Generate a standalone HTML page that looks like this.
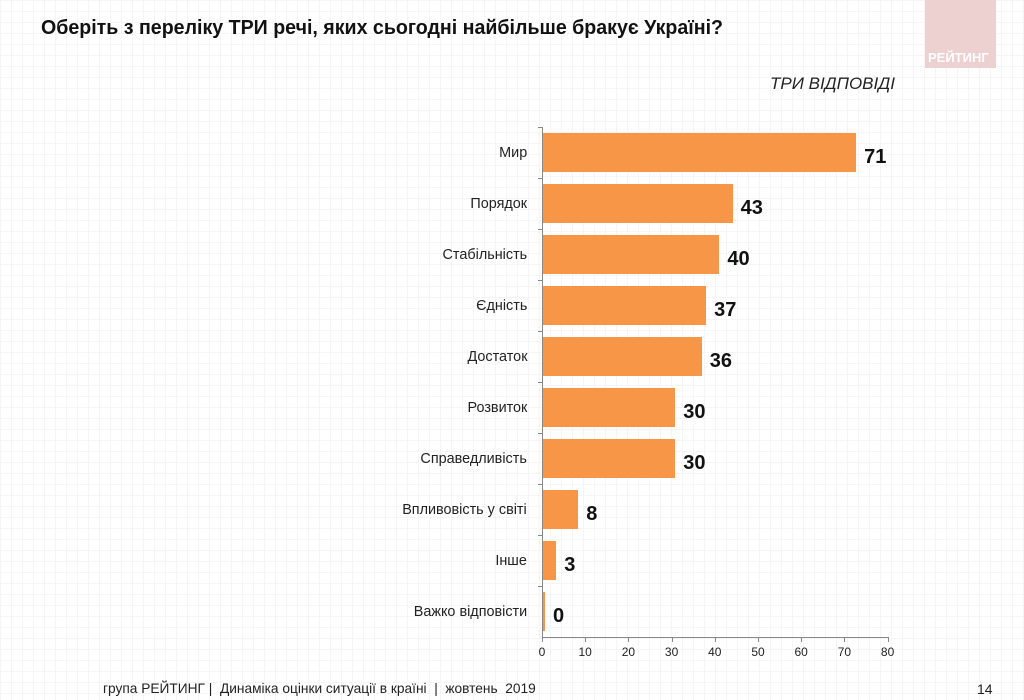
<!DOCTYPE html>
<html><head><meta charset="utf-8"><style>
body{margin:0;width:1024px;height:700px;position:relative;overflow:hidden;font-family:"Liberation Sans","DejaVu Sans",sans-serif;
background-color:#fff;background-image:linear-gradient(#f5f5f5 1px,transparent 1px),linear-gradient(90deg,#f5f5f5 1px,transparent 1px);background-size:11px 11px;}
.t{position:absolute;white-space:nowrap}
.lab{position:absolute;right:497px;font-size:15px;color:#222;transform:scaleX(0.96);transform-origin:right center}
.bar{position:absolute;left:543px;height:39px;background:#f79646}
.val{position:absolute;font-size:20px;font-weight:bold;color:#111}
.tick{position:absolute;font-size:12px;color:#222;top:645px;width:30px;text-align:center}
</style></head><body>
<div class="t" style="left:41px;top:17px;font-size:20px;font-weight:bold;color:#111;transform:scaleX(0.98);transform-origin:left">Оберіть з переліку ТРИ речі, яких сьогодні найбільше бракує Україні?</div>
<div style="position:absolute;left:925px;top:0;width:71px;height:68px;background:#edd0d0"></div>
<div class="t" style="left:928px;top:50px;font-size:13px;font-weight:bold;color:#fff">РЕЙТИНГ</div>
<div class="t" style="left:770px;top:74px;font-size:17px;font-style:italic;color:#222">ТРИ ВІДПОВІДІ</div>
<div style="position:absolute;left:542px;top:127px;width:1px;height:511px;background:#888"></div>
<div style="position:absolute;left:542px;top:637px;width:346px;height:1px;background:#888"></div>
<div id="c"></div>
<div class="t" style="left:103px;top:680px;font-size:14px;color:#222;transform:scaleX(0.98);transform-origin:left">група РЕЙТИНГ |&nbsp; Динаміка оцінки ситуації в країні&nbsp; |&nbsp; жовтень&nbsp; 2019</div>
<div class="t" style="left:977px;top:681px;font-size:14px;color:#222">14</div>
<script>
var d=[["Мир",71],["Порядок",43],["Стабільність",40],["Єдність",37],["Достаток",36],["Розвиток",30],["Справедливість",30],["Впливовість у світі",8],["Інше",3],["Важко відповісти",0]];
var h="";
d.forEach(function(r,i){var top=133+i*51,w=Math.max(r[1]*4.41,2);
h+='<div class="lab" style="top:'+(top+11)+'px">'+r[0]+'</div>';
h+='<div class="bar" style="top:'+top+'px;width:'+w+'px"></div>';
h+='<div class="val" style="top:'+(top+13)+'px;left:'+(543+w+8)+'px">'+r[1]+'</div>';
h+='<div style="position:absolute;left:538px;top:'+(127+i*51)+'px;width:5px;height:1px;background:#888"></div>';});
for(var k=0;k<=8;k++){var x=542+k*43.2;h+='<div class="tick" style="left:'+(x-15)+'px">'+(k*10)+'</div><div style="position:absolute;left:'+x+'px;top:637px;width:1px;height:5px;background:#888"></div>';}
document.getElementById("c").innerHTML=h;
</script>
</body></html>
